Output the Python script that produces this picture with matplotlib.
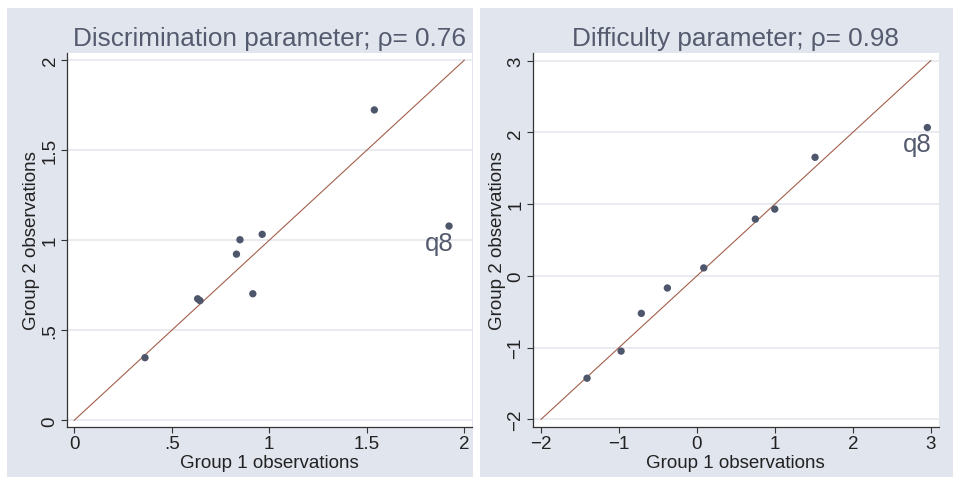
import matplotlib.pyplot as plt
from matplotlib.patches import Rectangle
import numpy as np

plt.rcParams['font.family'] = ['Liberation Sans', 'DejaVu Sans']

# Datos
disc_g1 = [0.363, 0.633, 0.645, 0.832, 0.850, 0.916, 0.964, 1.539, 1.922]
disc_g2 = [0.348, 0.675, 0.665, 0.923, 1.003, 0.703, 1.033, 1.724, 1.079]
diff_g1 = [-1.41, -0.973, -0.713, -0.379, 0.088, 0.750, 0.999, 1.516, 2.957]
diff_g2 = [-1.427, -1.049, -0.523, -0.169, 0.111, 0.791, 0.931, 1.653, 2.068]

disc_ticks = [0, 0.5, 1, 1.5, 2]
disc_labels = ['0', '.5', '1', '1.5', '2']
diff_ticks = [-2, -1, 0, 1, 2, 3]
diff_labels = ['\u22122', '\u22121', '0', '1', '2', '3']

titulos = ['Discrimination parameter; \u03c1= 0.76', 'Difficulty parameter; \u03c1= 0.98']
etiqueta = 'q8'

fondo = '#e1e5ee'
texto = '#555b6e'
marcador = '#4e566c'
linea = '#a25f4b'

fig = plt.figure(figsize=(9.54, 4.81), dpi=100)
fig.patch.set_facecolor('white')

# Regiones grises de cada grafico (en un eje de fondo)
bg = fig.add_axes([0, 0, 1, 1], zorder=-1)
bg.set_xlim(0, 954)
bg.set_ylim(0, 481)
bg.axis('off')
bg.add_patch(Rectangle((7, 3), 466, 469, color=fondo, lw=0))
bg.add_patch(Rectangle((480, 3), 474, 469, color=fondo, lw=0))

ax1 = fig.add_axes([0.0702, 0.1102, 0.4246, 0.7775])
ax2 = fig.add_axes([0.5584, 0.1102, 0.4259, 0.7775])


def dibujar(ax, x, y, ticks, labels, lim, titulo):
    ax.set_facecolor('white')
    ax.plot([ticks[0], ticks[-1]], [ticks[0], ticks[-1]], color=linea, lw=0.8, zorder=2)
    ax.scatter(x, y, s=28, color=marcador, zorder=3, edgecolors='none')
    # etiqueta del ultimo punto (q8)
    ax.annotate(etiqueta, (x[-1], y[-1]), xytext=(3, -3.5), textcoords='offset points',
                ha='right', va='top', fontsize=18.5, color=texto)
    ax.set_xlim(lim)
    ax.set_ylim(lim)
    ax.set_xticks(ticks)
    ax.set_xticklabels(labels)
    ax.set_yticks(ticks)
    ax.set_yticklabels(labels, rotation=90, va='center')
    ax.grid(axis='y', color='#e3e6ee', lw=1.1)
    ax.set_axisbelow(True)
    for s in ['top', 'right']:
        ax.spines[s].set_visible(False)
    for s in ['left', 'bottom']:
        ax.spines[s].set_color('#333333')
        ax.spines[s].set_linewidth(0.9)
    ax.tick_params(length=4, width=0.8, color='#333333', labelsize=13.5,
                   labelcolor='#222222', pad=2)
    ax.set_xlabel('Group 1 observations', fontsize=13.5, color='#222222', labelpad=1)
    ax.set_ylabel('Group 2 observations', fontsize=13.5, color='#222222', labelpad=1)
    ax.set_title(titulo, fontsize=18.8, color=texto, pad=5.5)


dibujar(ax1, disc_g1, disc_g2, disc_ticks, disc_labels, (-0.037, 2.04), titulos[0])
dibujar(ax2, diff_g1, diff_g2, diff_ticks, diff_labels, (-2.107, 3.107), titulos[1])

fig.savefig('out.png', dpi=100)
